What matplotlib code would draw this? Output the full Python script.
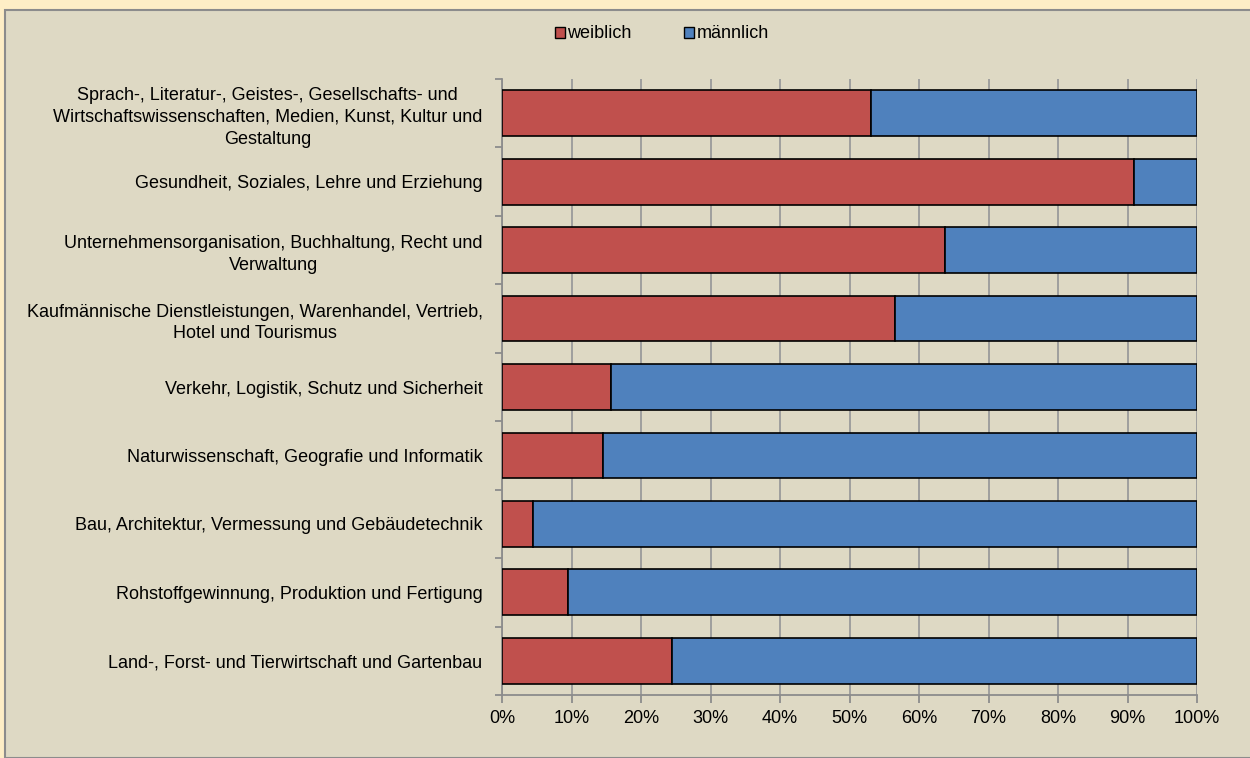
import matplotlib.pyplot as plt
from matplotlib.patches import Rectangle, Patch
from matplotlib.ticker import FixedLocator, PercentFormatter

# categories top to bottom
categories = [
    "Sprach-, Literatur-, Geistes-, Gesellschafts- und\nWirtschaftswissenschaften, Medien, Kunst, Kultur und\nGestaltung",
    "Gesundheit, Soziales, Lehre und Erziehung",
    "Unternehmensorganisation, Buchhaltung, Recht und\nVerwaltung",
    "Kaufmännische Dienstleistungen, Warenhandel, Vertrieb,\nHotel und Tourismus",
    "Verkehr, Logistik, Schutz und Sicherheit",
    "Naturwissenschaft, Geografie und Informatik",
    "Bau, Architektur, Vermessung und Gebäudetechnik",
    "Rohstoffgewinnung, Produktion und Fertigung",
    "Land-, Forst- und Tierwirtschaft und Gartenbau",
]
weiblich = [53.1, 90.9, 63.8, 56.6, 15.7, 14.6, 4.5, 9.5, 24.4]
maennlich = [100 - w for w in weiblich]

red = "#C0504D"
blue = "#4F81BD"
panel_bg = "#DED9C4"
outer_bg = "#FEEEC6"

plt.rcParams['font.family'] = ['Liberation Sans', 'DejaVu Sans']

fig = plt.figure(figsize=(12.5, 7.58), dpi=100)
fig.patch.set_facecolor(outer_bg)

# chart panel with grey border
panel = Rectangle((5 / 1250, 0), 1.1, (758 - 10) / 758, transform=fig.transFigure,
                  facecolor=panel_bg, edgecolor="#8C8C8C", linewidth=1.5, zorder=-5)
fig.patches.append(panel)

ax = fig.add_axes([502 / 1250, 1 - 695 / 758, (1197 - 502) / 1250, (695 - 79) / 758])
ax.set_facecolor(panel_bg)

n = len(categories)
ypos = list(range(n))
ax.barh(ypos, weiblich, height=0.67, color=red, edgecolor="black", linewidth=1.2, zorder=3)
ax.barh(ypos, maennlich, left=weiblich, height=0.67, color=blue, edgecolor="black",
        linewidth=1.2, zorder=3)

ax.set_xlim(0, 100)
ax.set_ylim(n - 0.5, -0.5)

ax.set_xticks(range(0, 101, 10))
ax.xaxis.set_major_formatter(PercentFormatter(decimals=0))
ax.grid(axis="x", color="#9A9A9A", linewidth=1.3, zorder=0)

ax.set_yticks(ypos)
ax.set_yticklabels(categories, ha="right", multialignment="center", linespacing=1.35)
ax.yaxis.set_minor_locator(FixedLocator([i - 0.5 for i in range(n + 1)]))
ax.tick_params(axis="y", which="major", length=0, pad=14)
ax.tick_params(axis="y", which="minor", length=5, color="#8C8C8C", width=1.3)
ax.tick_params(axis="x", length=6, color="#8C8C8C", width=1.3, pad=5)
ax.tick_params(labelsize=13)

for side in ["top", "right"]:
    ax.spines[side].set_visible(False)
for side in ["left", "bottom"]:
    ax.spines[side].set_color("#8C8C8C")
    ax.spines[side].set_linewidth(1.3)

handles = [Patch(facecolor=red, edgecolor="black", label="weiblich"),
           Patch(facecolor=blue, edgecolor="black", label="männlich")]
fig.legend(handles=handles, loc="center", bbox_to_anchor=(662 / 1250, 1 - 34 / 758), ncol=2,
           frameon=False, fontsize=13, handlelength=0.55, handleheight=0.55,
           handletextpad=0.15, columnspacing=2.9)

fig.savefig("out.png", dpi=100, facecolor=fig.get_facecolor())
